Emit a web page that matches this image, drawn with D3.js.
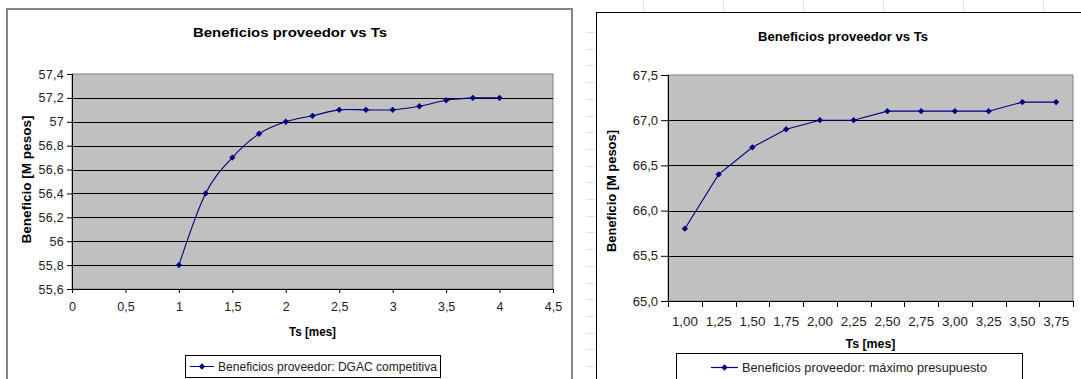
<!DOCTYPE html>
<html>
<head>
<meta charset="utf-8">
<script src="https://cdn.jsdelivr.net/npm/d3@7"></script>
<style>
  html, body { margin: 0; padding: 0; background: #fff; }
  svg { display: block; }
  text { font-family: "Liberation Sans", Arial, sans-serif; }
</style>
</head>
<body>
<svg id="chart" width="1081" height="379"></svg>
<script>
// ---------- data ----------
const chartTitle = "Beneficios proveedor vs Ts";
const yAxisTitle = "Beneficio [M pesos]";
const xAxisTitle = "Ts [mes]";

// Left chart (XY scatter, smoothed)
const tsLeft = [1, 1.25, 1.5, 1.75, 2, 2.25, 2.5, 2.75, 3, 3.25, 3.5, 3.75, 4];
const benefLeft = [55.8, 56.4, 56.7, 56.9, 57.0, 57.05, 57.1, 57.1, 57.1, 57.13, 57.18, 57.2, 57.2];
const leftXTicks = [0, 0.5, 1, 1.5, 2, 2.5, 3, 3.5, 4, 4.5];
const leftXTickLabels = ["0", "0,5", "1", "1,5", "2", "2,5", "3", "3,5", "4", "4,5"];
const leftYTicks = [55.6, 55.8, 56, 56.2, 56.4, 56.6, 56.8, 57, 57.2, 57.4];
const leftYTickLabels = ["55,6", "55,8", "56", "56,2", "56,4", "56,6", "56,8", "57", "57,2", "57,4"];
const leftLegend = "Beneficios proveedor: DGAC competitiva";

// Right chart (line chart, category axis)
const tsRight = ["1,00", "1,25", "1,50", "1,75", "2,00", "2,25", "2,50", "2,75", "3,00", "3,25", "3,50", "3,75"];
const benefRight = [65.8, 66.4, 66.7, 66.9, 67.0, 67.0, 67.1, 67.1, 67.1, 67.1, 67.2, 67.2];
const rightYTicks = [65.0, 65.5, 66.0, 66.5, 67.0, 67.5];
const rightYTickLabels = ["65,0", "65,5", "66,0", "66,5", "67,0", "67,5"];
const rightLegend = "Beneficios proveedor: máximo presupuesto";

// ---------- drawing ----------
const svg = d3.select("#chart");
const NAVY = "#000080";
const marker = d3.symbol(d3.symbolSquare, 20);

// faint spreadsheet cell lines around the right chart
const faint = svg.append("g").attr("stroke", "#e2e2e2").attr("stroke-width", 1);
d3.range(643, 1081, 80).forEach(x => faint.append("line")
  .attr("x1", x + 0.5).attr("x2", x + 0.5).attr("y1", 0).attr("y2", 12));
d3.range(32, 379, 16.7).forEach(y => faint.append("line")
  .attr("x1", 586).attr("x2", 595).attr("y1", Math.round(y) + 0.5).attr("y2", Math.round(y) + 0.5));

// ===== LEFT CHART =====
{
  const g = svg.append("g");
  g.append("rect").attr("x", 7).attr("y", 9).attr("width", 565).attr("height", 400)
    .attr("fill", "#fff").attr("stroke", "#858585").attr("stroke-width", 2);

  const L = 72, R = 553, T = 74, B = 289;
  const x = d3.scaleLinear().domain([0, 4.5]).range([L, R]);
  const y = d3.scaleLinear().domain([55.6, 57.4]).range([B, T]);

  g.append("rect").attr("x", L).attr("y", T).attr("width", R - L).attr("height", B - T)
    .attr("fill", "#c0c0c0").attr("stroke", "#808080").attr("stroke-width", 1);

  // gridlines
  g.append("g").selectAll("line").data(leftYTicks.slice(1, -1)).join("line")
    .attr("x1", L).attr("x2", R)
    .attr("y1", d => Math.round(y(d)) + 0.5).attr("y2", d => Math.round(y(d)) + 0.5)
    .attr("stroke", "#000").attr("stroke-width", 1);

  // axes
  const yAxis = d3.axisLeft(y).tickValues(leftYTicks)
    .tickFormat((d, i) => leftYTickLabels[i]).tickSize(5).tickPadding(3);
  const ya = g.append("g").attr("transform", `translate(${L},0)`).call(yAxis);
  const xAxis = d3.axisBottom(x).tickValues(leftXTicks)
    .tickFormat((d, i) => leftXTickLabels[i]).tickSize(4).tickPadding(9);
  const xa = g.append("g").attr("transform", `translate(0,${B})`).call(xAxis);
  [ya, xa].forEach(a => {
    a.select(".domain").attr("stroke", "#000").attr("stroke-width", 1);
    a.selectAll(".tick line").attr("stroke", "#000");
    a.selectAll("text").attr("font-size", 12.5).attr("fill", "#222")
      .attr("font-family", "'Liberation Sans', Arial, sans-serif");
  });
  ya.selectAll("text").attr("letter-spacing", 0.3);
  ya.select(".domain").attr("d", `M0.5,${T}V${B}`);

  // series
  const line = d3.line().x((d, i) => x(tsLeft[i])).y(d => y(d)).curve(d3.curveCardinal.tension(0));
  g.append("path").datum(benefLeft).attr("d", line)
    .attr("fill", "none").attr("stroke", NAVY).attr("stroke-width", 1.1);
  g.append("g").selectAll("path").data(benefLeft).join("path")
    .attr("d", marker).attr("fill", NAVY)
    .attr("transform", (d, i) => `translate(${x(tsLeft[i])},${y(d)}) rotate(45)`);

  // titles
  g.append("text").attr("x", 290).attr("y", 32).attr("dy", "0.35em").attr("text-anchor", "middle")
    .attr("font-size", 13.5).attr("font-weight", "bold")
    .attr("textLength", 194).attr("lengthAdjust", "spacingAndGlyphs").text(chartTitle);
  g.append("text").attr("transform", `translate(27,${(T + B) / 2 - 2}) rotate(-90)`)
    .attr("dy", "0.35em").attr("text-anchor", "middle")
    .attr("font-size", 12).attr("font-weight", "bold")
    .attr("textLength", 128).attr("lengthAdjust", "spacingAndGlyphs").text(yAxisTitle);
  g.append("text").attr("x", (L + R) / 2).attr("y", 332).attr("dy", "0.35em").attr("text-anchor", "middle")
    .attr("font-size", 12).attr("font-weight", "bold")
    .attr("textLength", 47).attr("lengthAdjust", "spacingAndGlyphs").text(xAxisTitle);

  // legend
  const lg = g.append("g");
  lg.append("rect").attr("x", 185.5).attr("y", 355.5).attr("width", 255).attr("height", 22)
    .attr("fill", "#fff").attr("stroke", "#000").attr("stroke-width", 1);
  lg.append("line").attr("x1", 190).attr("x2", 214).attr("y1", 366.5).attr("y2", 366.5)
    .attr("stroke", NAVY).attr("stroke-width", 1);
  lg.append("path").attr("d", marker).attr("fill", NAVY)
    .attr("transform", "translate(202,366.5) rotate(45)");
  lg.append("text").attr("x", 218).attr("y", 366.5).attr("dy", "0.35em")
    .attr("font-size", 12).attr("fill", "#222")
    .attr("textLength", 219).attr("lengthAdjust", "spacingAndGlyphs").text(leftLegend);
}

// ===== RIGHT CHART =====
{
  const g = svg.append("g");
  g.append("rect").attr("x", 596.5).attr("y", 12.5).attr("width", 600).attr("height", 400)
    .attr("fill", "#fff").attr("stroke", "#000").attr("stroke-width", 1);

  const L = 668, R = 1073, T = 75, B = 301;
  const x = d3.scaleBand().domain(tsRight).range([L, R]);
  const y = d3.scaleLinear().domain([65.0, 67.5]).range([B, T]);

  g.append("rect").attr("x", L).attr("y", T).attr("width", R - L).attr("height", B - T)
    .attr("fill", "#c0c0c0").attr("stroke", "#808080").attr("stroke-width", 1);

  g.append("g").selectAll("line").data(rightYTicks.slice(1, -1)).join("line")
    .attr("x1", L).attr("x2", R)
    .attr("y1", d => Math.round(y(d)) + 0.5).attr("y2", d => Math.round(y(d)) + 0.5)
    .attr("stroke", "#000").attr("stroke-width", 1);

  const yAxis = d3.axisLeft(y).tickValues(rightYTicks)
    .tickFormat((d, i) => rightYTickLabels[i]).tickSize(7).tickPadding(3);
  const ya = g.append("g").attr("transform", `translate(${L},0)`).call(yAxis);
  ya.select(".domain").attr("d", `M0.5,${T}V${B}`).attr("stroke", "#000");
  ya.selectAll(".tick line").attr("stroke", "#000");
  ya.selectAll("text").attr("font-size", 13).attr("fill", "#222")
    .attr("font-family", "'Liberation Sans', Arial, sans-serif");

  // x axis: domain line, ticks at category boundaries, labels at centers
  const xa = g.append("g");
  xa.append("line").attr("x1", L).attr("x2", R).attr("y1", B + 0.5).attr("y2", B + 0.5).attr("stroke", "#000");
  const bounds = tsRight.map(c => x(c)).concat([R]);
  xa.selectAll("line.tk").data(bounds).join("line").attr("class", "tk")
    .attr("x1", d => Math.round(d) + 0.5).attr("x2", d => Math.round(d) + 0.5)
    .attr("y1", B).attr("y2", B + 6).attr("stroke", "#000");
  xa.selectAll("text").data(tsRight).join("text")
    .attr("x", d => x(d) + x.bandwidth() / 2).attr("y", 321).attr("dy", "0.35em")
    .attr("text-anchor", "middle").attr("font-size", 13).attr("fill", "#222")
    .attr("textLength", 26).attr("lengthAdjust", "spacingAndGlyphs").text(d => d);

  const cx = d => x(d) + x.bandwidth() / 2;
  const line = d3.line().x((d, i) => cx(tsRight[i])).y(d => y(d));
  g.append("path").datum(benefRight).attr("d", line)
    .attr("fill", "none").attr("stroke", NAVY).attr("stroke-width", 1.1);
  g.append("g").selectAll("path").data(benefRight).join("path")
    .attr("d", marker).attr("fill", NAVY)
    .attr("transform", (d, i) => `translate(${cx(tsRight[i])},${y(d)}) rotate(45)`);

  g.append("text").attr("x", 843).attr("y", 36).attr("dy", "0.35em").attr("text-anchor", "middle")
    .attr("font-size", 13).attr("font-weight", "bold")
    .attr("textLength", 170).attr("lengthAdjust", "spacingAndGlyphs").text(chartTitle);
  g.append("text").attr("transform", `translate(612,${(T + B) / 2 + 3}) rotate(-90)`)
    .attr("dy", "0.35em").attr("text-anchor", "middle")
    .attr("font-size", 12.5).attr("font-weight", "bold")
    .attr("textLength", 122).attr("lengthAdjust", "spacingAndGlyphs").text(yAxisTitle);
  g.append("text").attr("x", (L + R) / 2).attr("y", 343).attr("dy", "0.35em").attr("text-anchor", "middle")
    .attr("font-size", 13).attr("font-weight", "bold")
    .attr("textLength", 50).attr("lengthAdjust", "spacingAndGlyphs").text(xAxisTitle);

  const lg = g.append("g");
  lg.append("rect").attr("x", 676.5).attr("y", 353.5).attr("width", 346).attr("height", 40)
    .attr("fill", "#fff").attr("stroke", "#000").attr("stroke-width", 1);
  lg.append("line").attr("x1", 711).attr("x2", 738).attr("y1", 367.5).attr("y2", 367.5)
    .attr("stroke", NAVY).attr("stroke-width", 1.2);
  lg.append("path").attr("d", marker).attr("fill", NAVY)
    .attr("transform", "translate(724.5,367.5) rotate(45)");
  lg.append("text").attr("x", 742).attr("y", 367.5).attr("dy", "0.35em")
    .attr("font-size", 13).attr("fill", "#222")
    .attr("textLength", 245).attr("lengthAdjust", "spacingAndGlyphs").text(rightLegend);
}
</script>
</body>
</html>
